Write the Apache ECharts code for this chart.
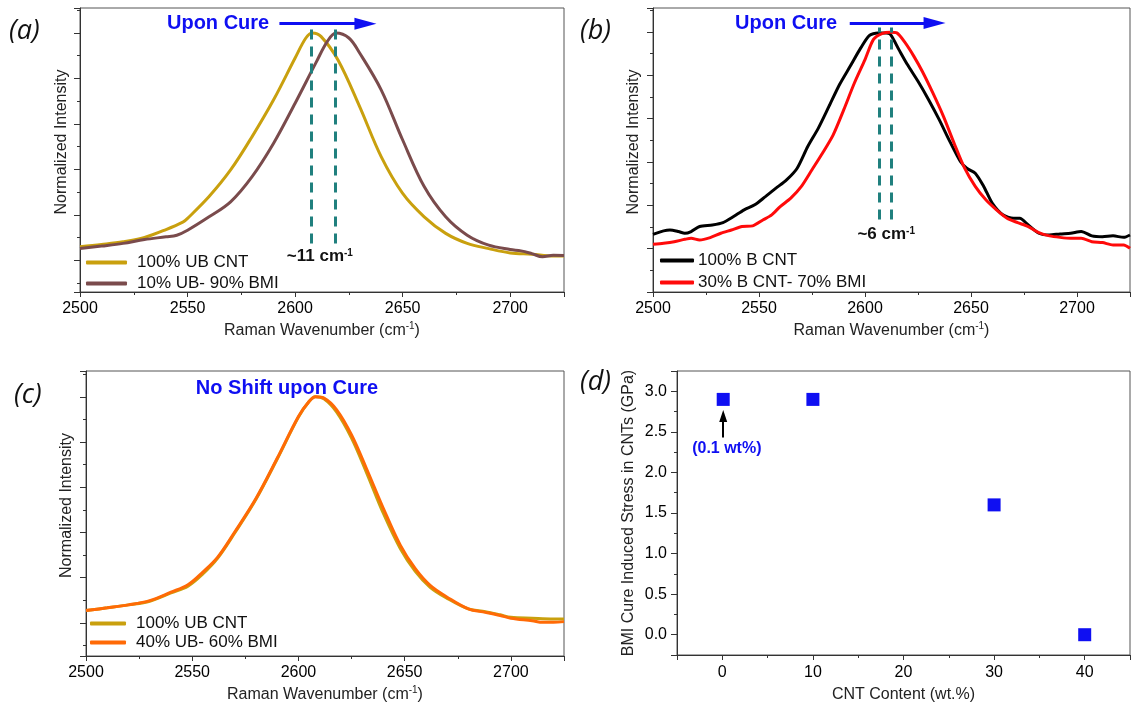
<!DOCTYPE html>
<html>
<head>
<meta charset="utf-8">
<script src="https://cdn.jsdelivr.net/npm/echarts@6/dist/echarts.min.js"></script>
<style>
  html, body { margin: 0; padding: 0; background: #fff; }
  #chart { width: 1133px; height: 709px; }
</style>
</head>
<body>
<div id="chart"></div>
<script>
// ---------- Raman 2D-band spectra (normalized) ----------
// (a) unbundled CNT vs 10% UB - 90% BMI
const aUbX  = [2500, 2510, 2520, 2530, 2540, 2548, 2550, 2560, 2570, 2580, 2590, 2600, 2605, 2608, 2612, 2620, 2630, 2640, 2650, 2660, 2670, 2680, 2690, 2700, 2710, 2720, 2725];
const aUbY  = [0.059, 0.069, 0.081, 0.100, 0.135, 0.169, 0.184, 0.280, 0.397, 0.544, 0.706, 0.890, 0.978, 1.000, 0.985, 0.880, 0.676, 0.456, 0.294, 0.191, 0.118, 0.074, 0.051, 0.032, 0.026, 0.018, 0.018];
const aBmiX = [2500, 2510, 2520, 2530, 2540, 2545, 2550, 2560, 2570, 2580, 2590, 2600, 2610, 2615, 2619, 2625, 2630, 2640, 2650, 2660, 2670, 2680, 2690, 2700, 2705, 2710, 2715, 2720, 2725];
const aBmiY = [0.051, 0.062, 0.074, 0.091, 0.103, 0.110, 0.132, 0.191, 0.257, 0.368, 0.515, 0.691, 0.875, 0.963, 1.000, 0.978, 0.912, 0.750, 0.529, 0.324, 0.191, 0.110, 0.066, 0.047, 0.041, 0.029, 0.015, 0.022, 0.021];
const aPeaks = [2607.5, 2618.5];
const aShiftLabel = '~11 cm{s|-1}';

// (b) bundled CNT vs 30% B CNT - 70% BMI
const bCntX = [2500, 2505, 2508, 2512, 2515, 2518, 2522, 2528, 2533, 2538, 2543, 2548, 2553, 2558, 2563, 2568, 2573, 2578, 2583, 2588, 2593, 2598, 2602, 2606, 2610, 2612, 2616, 2620, 2625, 2630, 2635, 2640, 2645, 2648, 2652, 2656, 2660, 2665, 2670, 2673, 2677, 2682, 2687, 2692, 2697, 2702, 2707, 2712, 2717, 2722, 2725];
const bCntY = [0.066, 0.082, 0.086, 0.079, 0.071, 0.079, 0.102, 0.109, 0.120, 0.148, 0.179, 0.202, 0.240, 0.279, 0.317, 0.371, 0.471, 0.556, 0.656, 0.757, 0.841, 0.926, 0.983, 0.995, 0.995, 0.988, 0.918, 0.849, 0.772, 0.687, 0.595, 0.495, 0.402, 0.371, 0.348, 0.287, 0.210, 0.156, 0.140, 0.140, 0.109, 0.071, 0.063, 0.068, 0.071, 0.079, 0.059, 0.055, 0.059, 0.052, 0.063];
const bBmiX = [2500, 2505, 2510, 2515, 2518, 2522, 2527, 2532, 2537, 2542, 2547, 2552, 2556, 2560, 2565, 2570, 2575, 2580, 2585, 2590, 2595, 2600, 2604, 2608, 2612, 2615, 2619, 2623, 2627, 2632, 2637, 2642, 2647, 2652, 2657, 2662, 2667, 2672, 2677, 2682, 2687, 2692, 2697, 2702, 2707, 2712, 2717, 2722, 2725];
const bBmiY = [0.020, 0.025, 0.032, 0.043, 0.048, 0.040, 0.051, 0.071, 0.086, 0.102, 0.105, 0.133, 0.156, 0.194, 0.233, 0.287, 0.364, 0.441, 0.525, 0.641, 0.764, 0.872, 0.965, 0.992, 0.998, 0.995, 0.949, 0.888, 0.818, 0.718, 0.610, 0.487, 0.371, 0.287, 0.225, 0.179, 0.140, 0.120, 0.102, 0.074, 0.059, 0.052, 0.048, 0.048, 0.032, 0.028, 0.017, 0.017, 0.002];
const bPeaks = [2606.5, 2612.5];
const bShiftLabel = '~6 cm{s|-1}';

// (c) unbundled CNT vs 40% UB - 60% BMI
const cUbX  = [2500, 2510, 2520, 2530, 2540, 2548, 2555, 2562, 2570, 2580, 2590, 2600, 2605, 2608, 2612, 2618, 2625, 2632, 2640, 2648, 2655, 2662, 2670, 2680, 2688, 2695, 2700, 2710, 2720, 2725];
const cUbY  = [0.055, 0.067, 0.080, 0.096, 0.133, 0.163, 0.217, 0.287, 0.398, 0.547, 0.725, 0.910, 0.979, 1.000, 0.991, 0.932, 0.817, 0.666, 0.484, 0.328, 0.228, 0.158, 0.109, 0.062, 0.050, 0.036, 0.025, 0.021, 0.018, 0.018];
const cBmiX = [2500, 2510, 2520, 2530, 2540, 2548, 2555, 2562, 2570, 2580, 2590, 2600, 2605, 2608, 2612, 2618, 2625, 2632, 2640, 2648, 2655, 2662, 2670, 2680, 2688, 2695, 2700, 2710, 2715, 2720, 2725];
const cBmiY = [0.055, 0.067, 0.080, 0.099, 0.136, 0.169, 0.225, 0.291, 0.402, 0.550, 0.728, 0.913, 0.979, 1.000, 0.994, 0.942, 0.831, 0.683, 0.506, 0.343, 0.240, 0.166, 0.114, 0.062, 0.047, 0.033, 0.021, 0.010, 0.003, 0.003, 0.006];

// (d) cure-induced stress vs CNT content
const dContent = [0.1, 10, 30, 40];
const dStress  = [2.9, 2.9, 1.6, 0.0];

// axis extents
const ramanRange = [2500, 2725];
const aIntRange = [-0.14, 1.11];
const bIntRange = [-0.2, 1.11];
const cIntRange = [-0.146, 1.114];
const dXRange = [-5, 45];
const dYRange = [-0.25, 3.25];

const zip = (xs, ys) => xs.map((x, i) => [x, ys[i]]);

const GOLD = '#c9a00e';
const BROWN = '#7a4b4c';
const RED = '#ff0a0a';
const ORANGE = '#ff6a06';
const BLUE = '#0f0ff2';
const TEAL = '#20807e';
const AXIS = '#333';
const FONT = 'Liberation Sans';

// arrow heads: tip at the top of the box, stretched along the line direction
const WIDE_HEAD = 'path://M6,0 L12,22 L0,22 Z';
const SMALL_HEAD = 'path://M4,0 L8,12 L0,12 Z';

const supRich = { s: { fontSize: 10, lineHeight: 11, verticalAlign: 'top', fontFamily: FONT } };

function ramanAxis(gi) {
  return {
    type: 'value', gridIndex: gi, min: ramanRange[0], max: ramanRange[1], interval: 50,
    axisLine: { show: true, onZero: false, lineStyle: { color: AXIS, width: 1 } },
    axisTick: { show: true, length: 5, lineStyle: { color: AXIS } },
    minorTick: { show: true, splitNumber: 2, length: 3, lineStyle: { color: AXIS } },
    splitLine: { show: false },
    axisLabel: { color: '#000', fontSize: 16, margin: 9, fontFamily: FONT,
      formatter: v => (v % 50 === 0 ? String(v) : '') },
    name: 'Raman Wavenumber (cm{s|-1})', nameLocation: 'middle', nameGap: 29,
    nameTextStyle: { color: '#222', fontSize: 16, lineHeight: 20, fontFamily: FONT,
      rich: { s: Object.assign({ color: '#222' }, supRich.s) } }
  };
}

function intensityAxis(gi, range, gap) {
  return {
    type: 'value', gridIndex: gi, min: range[0], max: range[1], splitNumber: 6,
    axisLine: { show: true, onZero: false, lineStyle: { color: AXIS, width: 1 } },
    axisTick: { show: true, length: 6, lineStyle: { color: AXIS } },
    minorTick: { show: true, splitNumber: 2, length: 3, lineStyle: { color: AXIS } },
    splitLine: { show: false },
    axisLabel: { show: false },
    name: 'Normalized Intensity', nameLocation: 'middle', nameGap: gap,
    nameTextStyle: { color: '#222', fontSize: 16, fontFamily: FONT, padding: [0, 0, 0, 16] }
  };
}

function textMark(coord, text, style) {
  return {
    coord: coord,
    label: Object.assign({ show: true, position: 'inside', formatter: text, fontFamily: FONT }, style)
  };
}

function peakLines(peaks, y0, y1) {
  return peaks.map(p => [{ coord: [p, y0] }, { coord: [p, y1] }]);
}

function arrowLine(from, to, color, width, head, headSize) {
  return {
    silent: true, symbol: ['none', head], symbolSize: headSize, symbolKeepAspect: true,
    label: { show: false }, itemStyle: { color: color },
    lineStyle: { color: color, width: width, type: 'solid' },
    data: [[{ coord: from }, { coord: to }]]
  };
}

const blueBold = { color: BLUE, fontSize: 20, fontWeight: 'bold' };
const shiftStyle = { color: '#111', fontSize: 17, fontWeight: 'bold',
  rich: { s: Object.assign({ color: '#111', fontWeight: 'bold' }, supRich.s) } };

const option = {
  animation: false,
  backgroundColor: '#fff',
  textStyle: { fontFamily: FONT },
  title: [
    { text: '(a)', left: 9, top: 18 },
    { text: '(b)', left: 580, top: 18 },
    { text: '(c)', left: 14, top: 382 },
    { text: '(d)', left: 580, top: 369 }
  ].map(t => Object.assign(t, { padding: 0,
    textStyle: { fontFamily: 'Open Sans', fontStyle: 'italic', fontWeight: 'normal', fontSize: 27, color: '#111' } })),
  grid: [
    { left: 80, top: 8, width: 484, height: 284 },
    { left: 653, top: 8, width: 483, height: 284 },
    { left: 86, top: 371, width: 478, height: 285 },
    { left: 677, top: 371, width: 455, height: 284 }
  ].map(g => Object.assign(g, { show: true, borderColor: '#555', borderWidth: 1, containLabel: false })),
  legend: [
    { data: ['100% UB CNT', '10% UB- 90% BMI'], left: 86, top: 254, itemWidth: 41, itemGap: 4,
      textStyle: { padding: [0, 0, 0, 5] } },
    { data: ['100% B CNT', '30% B CNT- 70% BMI'], left: 660, top: 252, itemWidth: 34, itemGap: 5,
      textStyle: { padding: [0, 0, 0, -1] } },
    { data: ['100% UB CNT', '40% UB- 60% BMI'], left: 90, top: 615, itemWidth: 36, itemGap: 2,
      textStyle: { padding: [0, 0, 0, 5] } }
  ].map(l => Object.assign(l, { orient: 'vertical', icon: 'roundRect', itemHeight: 4, selectedMode: false,
    padding: 0,
    textStyle: Object.assign({ fontSize: 17, color: '#111', fontFamily: FONT }, l.textStyle) })),
  xAxis: [
    ramanAxis(0),
    ramanAxis(1),
    ramanAxis(2),
    {
      type: 'value', gridIndex: 3, min: dXRange[0], max: dXRange[1], splitNumber: 5,
      axisLine: { show: true, onZero: false, lineStyle: { color: AXIS } },
      axisTick: { show: true, length: 5, lineStyle: { color: AXIS } },
      minorTick: { show: true, splitNumber: 2, length: 3, lineStyle: { color: AXIS } },
      splitLine: { show: false },
      axisLabel: { color: '#000', fontSize: 16, margin: 10, formatter: v => (v % 10 === 0 ? String(v) : '') },
      name: 'CNT Content (wt.%)', nameLocation: 'middle', nameGap: 32,
      nameTextStyle: { color: '#222', fontSize: 16 }
    }
  ],
  yAxis: [
    intensityAxis(0, aIntRange, 10),
    intensityAxis(1, bIntRange, 11),
    intensityAxis(2, cIntRange, 11),
    {
      type: 'value', gridIndex: 3, min: dYRange[0], max: dYRange[1], splitNumber: 7,
      axisLine: { show: true, onZero: false, lineStyle: { color: AXIS } },
      axisTick: { show: true, length: 6, lineStyle: { color: AXIS } },
      minorTick: { show: true, splitNumber: 2, length: 3, lineStyle: { color: AXIS } },
      splitLine: { show: false },
      axisLabel: { color: '#000', fontSize: 16, margin: 10,
        formatter: v => (Math.abs(v * 2 - Math.round(v * 2)) < 1e-6 ? v.toFixed(1) : '') },
      name: 'BMI Cure Induced Stress in CNTs (GPa)', nameLocation: 'middle', nameGap: 40,
      nameTextStyle: { color: '#222', fontSize: 16 }
    }
  ],
  series: [
    // ---- (a) ----
    { type: 'line', name: '100% UB CNT', xAxisIndex: 0, yAxisIndex: 0, data: zip(aUbX, aUbY),
      symbol: 'none', smooth: 0.35, color: GOLD, lineStyle: { width: 3, color: GOLD } },
    { type: 'line', name: '10% UB- 90% BMI', xAxisIndex: 0, yAxisIndex: 0, data: zip(aBmiX, aBmiY),
      symbol: 'none', smooth: 0.35, color: BROWN, lineStyle: { width: 3, color: BROWN },
      markLine: { silent: true, symbol: 'none', label: { show: false },
        lineStyle: { color: TEAL, width: 3, type: [10, 7] },
        data: peakLines(aPeaks, 0.074, 1.018) },
      markPoint: { silent: true, symbol: 'circle', symbolSize: 0,
        data: [
          textMark([2564.2, 1.041], 'Upon Cure', blueBold),
          textMark([2611.5, 0.015], aShiftLabel, shiftStyle)
        ] } },
    { type: 'line', name: 'cureArrowA', xAxisIndex: 0, yAxisIndex: 0, data: [],
      markLine: arrowLine([2592.7, 1.041], [2632.7, 1.041], BLUE, 3, WIDE_HEAD, 22) },

    // ---- (b) ----
    { type: 'line', name: '100% B CNT', xAxisIndex: 1, yAxisIndex: 1, data: zip(bCntX, bCntY),
      symbol: 'none', smooth: 0.25, color: '#000', lineStyle: { width: 3, color: '#000' } },
    { type: 'line', name: '30% B CNT- 70% BMI', xAxisIndex: 1, yAxisIndex: 1, data: zip(bBmiX, bBmiY),
      symbol: 'none', smooth: 0.25, color: RED, lineStyle: { width: 3, color: RED },
      markLine: { silent: true, symbol: 'none', label: { show: false },
        lineStyle: { color: TEAL, width: 3, type: [10, 7] },
        data: peakLines(bPeaks, 0.134, 1.02) },
      markPoint: { silent: true, symbol: 'circle', symbolSize: 0,
        data: [
          textMark([2562.8, 1.038], 'Upon Cure', blueBold),
          textMark([2610, 0.065], bShiftLabel, shiftStyle)
        ] } },
    { type: 'line', name: 'cureArrowB', xAxisIndex: 1, yAxisIndex: 1, data: [],
      markLine: arrowLine([2592.8, 1.041], [2632.8, 1.041], BLUE, 3, WIDE_HEAD, 22) },

    // ---- (c) ----
    { type: 'line', name: '100% UB CNT', xAxisIndex: 2, yAxisIndex: 2, data: zip(cUbX, cUbY),
      symbol: 'none', smooth: 0.35, color: GOLD, lineStyle: { width: 3, color: GOLD } },
    { type: 'line', name: '40% UB- 60% BMI', xAxisIndex: 2, yAxisIndex: 2, data: zip(cBmiX, cBmiY),
      symbol: 'none', smooth: 0.35, color: ORANGE, lineStyle: { width: 3, color: ORANGE },
      markPoint: { silent: true, symbol: 'circle', symbolSize: 0,
        data: [ textMark([2594.6, 1.037], 'No Shift upon Cure', blueBold) ] } },

    // ---- (d) ----
    { type: 'scatter', name: 'stress', xAxisIndex: 3, yAxisIndex: 3, data: zip(dContent, dStress),
      symbol: 'rect', symbolSize: 13, itemStyle: { color: BLUE, opacity: 1 },
      markLine: arrowLine([0.1, 2.43], [0.1, 2.695], '#000', 2, SMALL_HEAD, 12),
      markPoint: { silent: true, symbol: 'circle', symbolSize: 0,
        data: [ textMark([0.5, 2.29], '(0.1 wt%)', { color: BLUE, fontSize: 16, fontWeight: 'bold' }) ] } }
  ]
};

const chart = echarts.init(document.getElementById('chart'), null, { renderer: 'canvas' });
chart.setOption(option);
</script>
</body>
</html>
